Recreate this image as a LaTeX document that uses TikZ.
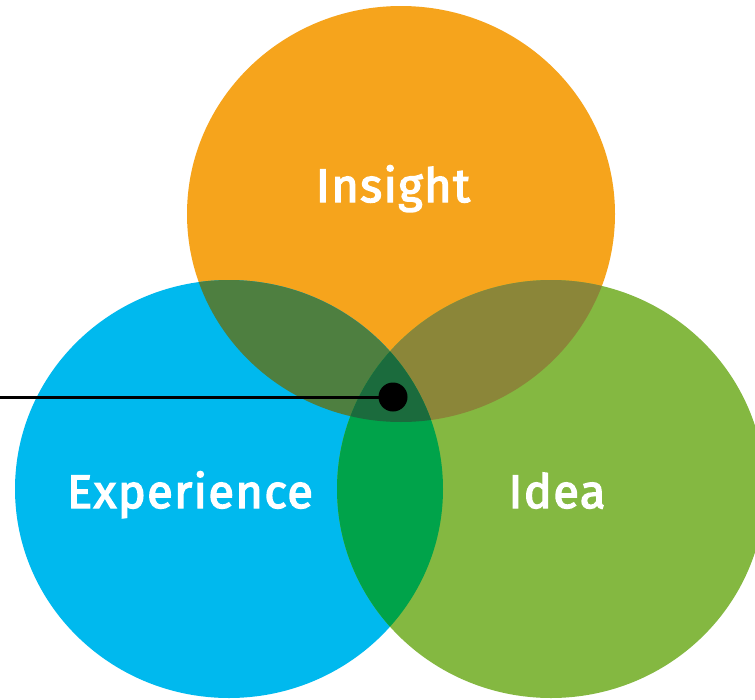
\documentclass[tikz,border=0pt]{standalone}
\usepackage{fontspec}
\setmainfont{Fira Sans}[FakeBold=3, LetterSpace=3]
\definecolor{cOr}{HTML}{F6A41C}
\definecolor{cBl}{HTML}{00B9EE}
\definecolor{cGr}{HTML}{84B841}
\definecolor{cOB}{HTML}{4E7F40}
\definecolor{cOG}{HTML}{8B8639}
\definecolor{cBG}{HTML}{00A34A}
\definecolor{cAll}{HTML}{1B6B3D}
\tikzset{
  lbl/.style={text=white, anchor=base, inner sep=0pt, font=\fontsize{47}{50}\selectfont},
}
\begin{document}
\begin{tikzpicture}[x=1pt,y=-1pt]
\useasboundingbox (0,0) rectangle (755,699);
\fill[white] (0,0) rectangle (755,699);
% circles
\fill[cOr] (401,214) ellipse [x radius=214, y radius=208];
\fill[cBl] (229,489) ellipse [x radius=214, y radius=209];
\fill[cGr] (551,489) ellipse [x radius=214, y radius=209];
% pairwise overlaps
\begin{scope}
  \clip (401,214) ellipse [x radius=214, y radius=208];
  \fill[cOB] (229,489) ellipse [x radius=214, y radius=209];
  \fill[cOG] (551,489) ellipse [x radius=214, y radius=209];
\end{scope}
\begin{scope}
  \clip (229,489) ellipse [x radius=214, y radius=209];
  \fill[cBG] (551,489) ellipse [x radius=214, y radius=209];
  \clip (551,489) ellipse [x radius=214, y radius=209];
  \fill[cAll] (401,214) ellipse [x radius=214, y radius=208];
\end{scope}
% labels
\node[lbl] (insight) at (393,202) {Insight};
\node[lbl] (experience) at (190,508) {Experience};
\node[lbl] (idea) at (557,508) {Idea};
% pointer
\node[circle, fill=black, minimum size=29pt, inner sep=0pt] (dot) at (393,397) {};
\coordinate (start) at (0,397);
\draw[line width=3pt] (start) -- (dot.center);
\end{tikzpicture}
\end{document}
